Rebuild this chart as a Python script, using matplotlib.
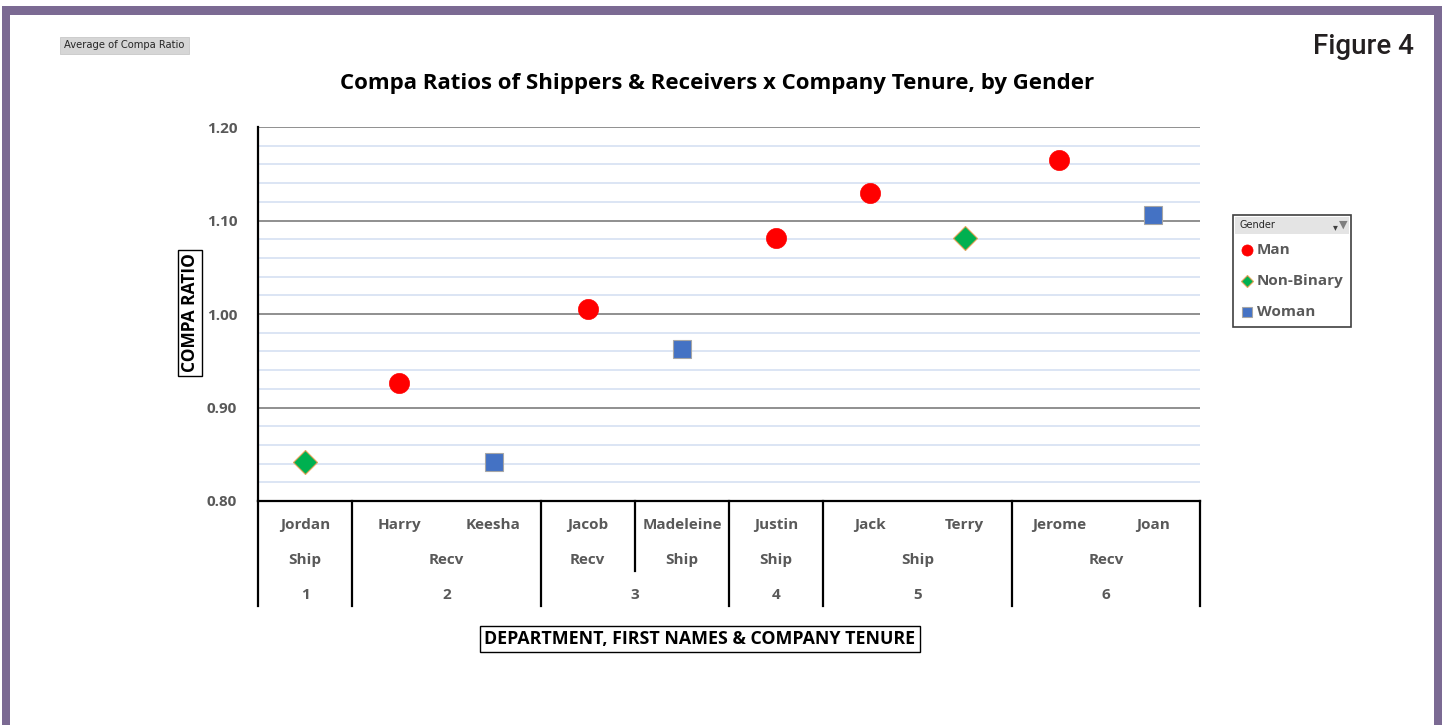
import numpy as np
import matplotlib
matplotlib.use('Agg')
import matplotlib.pyplot as plt
from matplotlib.patches import Rectangle
from matplotlib.lines import Line2D
from matplotlib.transforms import blended_transform_factory

# data
names = ["Jordan", "Harry", "Keesha", "Jacob", "Madeleine", "Justin", "Jack", "Terry", "Jerome", "Joan"]
depts = ["Ship", "Recv", "Recv", "Recv", "Ship", "Ship", "Ship", "Ship", "Recv", "Recv"]
tenure = [1, 2, 2, 3, 3, 4, 5, 5, 6, 6]
gender = ["Non-Binary", "Man", "Woman", "Man", "Woman", "Man", "Man", "Non-Binary", "Man", "Woman"]
compa = [0.842, 0.926, 0.842, 1.005, 0.963, 1.081, 1.129, 1.081, 1.165, 1.106]

genders = ["Man", "Non-Binary", "Woman"]
yticks = [0.80, 0.90, 1.00, 1.10, 1.20]

W, H = 1442, 725
fig = plt.figure(figsize=(W / 100, H / 100), dpi=100)
fig.patch.set_facecolor('white')

def fx(x):
    return x / W

def fy(y):
    return 1 - y / H

# purple frame (no bottom edge)
purple = '#7B6A93'
for (x0, y0, x1, y1) in [(2, 6, 1442, 15), (2, 6, 10, 725), (1434, 6, 1442, 725)]:
    fig.add_artist(Rectangle((fx(x0), fy(y1)), fx(x1 - x0), (y1 - y0) / H,
                             transform=fig.transFigure, color=purple, lw=0))

# plot area
L, R, T, B = 258, 1200, 127, 501
ax = fig.add_axes([fx(L), fy(B), fx(R - L), (B - T) / H])
ax.set_xlim(-0.5, len(names) - 0.5)
ax.set_ylim(0.80, 1.20)
ax.set_yticks(yticks)
ax.set_yticks(np.arange(0.80, 1.2001, 0.02), minor=True)
ax.grid(which='minor', axis='y', color='#D6E0F2', lw=1.2)
ax.grid(which='major', axis='y', color='#878787', lw=1.3)
ax.set_axisbelow(True)
ax.tick_params(axis='y', which='both', length=0, pad=15)
ax.tick_params(axis='x', which='both', length=0, labelbottom=False)
ax.set_xticks([])
ax.set_yticklabels([f"{v:.2f}" for v in yticks])
for lab in ax.get_yticklabels():
    lab.set_fontfamily('Open Sans')
    lab.set_fontweight('bold')
    lab.set_fontsize(11)
    lab.set_color('#595959')
for s in ['top', 'right']:
    ax.spines[s].set_visible(False)
ax.spines['left'].set_color('black')
ax.spines['left'].set_linewidth(1.6)
ax.spines['bottom'].set_color('black')
ax.spines['bottom'].set_linewidth(1.6)

styles = {
    "Man": dict(marker='o', ms=14.5, mfc='#FF0000', mec='#FF0000', mew=0.5),
    "Non-Binary": dict(marker='D', ms=12, mfc='#00B050', mec='#E3A35A', mew=0.8),
    "Woman": dict(marker='s', ms=13.5, mfc='#4472C4', mec='#A6A6A6', mew=0.8),
}
xs = np.arange(len(names))
for g in genders:
    idx = [i for i, gg in enumerate(gender) if gg == g]
    ax.plot(xs[idx], np.array(compa)[idx], ls='none', zorder=3, **styles[g])

# categorical table below the axis
trans = blended_transform_factory(ax.transData, fig.transFigure)
lab_kw = dict(transform=trans, ha='center', va='center', fontfamily='Open Sans',
              fontweight='bold', fontsize=11, color='#595959')
for i, n in enumerate(names):
    ax.text(i, fy(525), n, **lab_kw)

def runs(keys):
    out = []
    start = 0
    for i in range(1, len(keys) + 1):
        if i == len(keys) or keys[i] != keys[start]:
            out.append((start, i - 1))
            start = i
    return out

dept_keys = list(zip(tenure, depts))
for a, b in runs(dept_keys):
    ax.text((a + b) / 2, fy(560), depts[a], **lab_kw)
for a, b in runs(tenure):
    ax.text((a + b) / 2, fy(595), str(tenure[a]), **lab_kw)

# separators
tenure_edges = [-0.5] + [b + 0.5 for a, b in runs(tenure)]
for e in tenure_edges:
    ax.add_line(Line2D([e, e], [fy(B), fy(606)], transform=trans, color='black',
                       lw=1.6, clip_on=False))
for a, b in runs(dept_keys):
    e = b + 0.5
    if e not in tenure_edges:
        ax.add_line(Line2D([e, e], [fy(B), fy(571)], transform=trans, color='black',
                           lw=1.6, clip_on=False))

# title and axis labels
fig.text(fx(717), fy(84), "Compa Ratios of Shippers & Receivers x Company Tenure, by Gender",
         ha='center', va='center', fontfamily='Open Sans', fontweight='bold', fontsize=16,
         color='black')
fig.text(fx(190), fy(313), "COMPA RATIO", rotation=90, ha='center', va='center',
         fontfamily='Open Sans', fontweight='bold', fontsize=12.5, color='black',
         bbox=dict(boxstyle='square,pad=0.2', fc='white', ec='black', lw=1))
fig.text(fx(700), fy(639), "DEPARTMENT, FIRST NAMES & COMPANY TENURE", ha='center', va='center',
         fontfamily='Open Sans', fontweight='bold', fontsize=12.8, color='black',
         bbox=dict(boxstyle='square,pad=0.25', fc='white', ec='black', lw=1))

# pivot field button and figure number
fig.add_artist(Rectangle((fx(60), fy(54)), fx(129), 17 / H, transform=fig.transFigure,
                         fc='#D6D6D6', ec='#C8C8C8', lw=0.6))
fig.text(fx(124.5), fy(45.5), "Average of Compa Ratio", ha='center', va='center',
         fontfamily='DejaVu Sans', fontsize=7.2, color='#262626')
fig.text(fx(1414), fy(47), "Figure 4", ha='right', va='center', fontfamily='Roboto',
         fontweight='medium', fontsize=20, color='#231F20')

# legend box
fig.add_artist(Rectangle((fx(1233), fy(327)), fx(118), 112 / H, transform=fig.transFigure,
                         fc='white', ec='#404040', lw=1.2))
fig.add_artist(Rectangle((fx(1235), fy(234)), fx(114), 17 / H, transform=fig.transFigure,
                         fc='#E4E4E4', ec='none', lw=0))
fig.text(fx(1239), fy(225.5), "Gender", ha='left', va='center', fontfamily='DejaVu Sans',
         fontsize=7, color='#262626')
fig.text(fx(1338), fy(227), "\u25be", ha='right', va='center', fontfamily='DejaVu Sans',
         fontsize=7, color='#404040')
fig.text(fx(1347), fy(225), "\u25bc", ha='right', va='center', fontfamily='DejaVu Sans',
         fontsize=8, color='#7F7F7F')
leg_y = [250, 281, 312]
leg_ms = {"Man": 8, "Non-Binary": 6, "Woman": 7}
for g, yy in zip(genders, leg_y):
    st = dict(styles[g])
    st['ms'] = leg_ms[g]
    fig.add_artist(Line2D([fx(1247)], [fy(yy)], transform=fig.transFigure, ls='none', **st))
    fig.text(fx(1257), fy(yy), g, ha='left', va='center', fontfamily='Open Sans',
             fontweight='bold', fontsize=11, color='#595959')

fig.savefig('out.png', dpi=100)
